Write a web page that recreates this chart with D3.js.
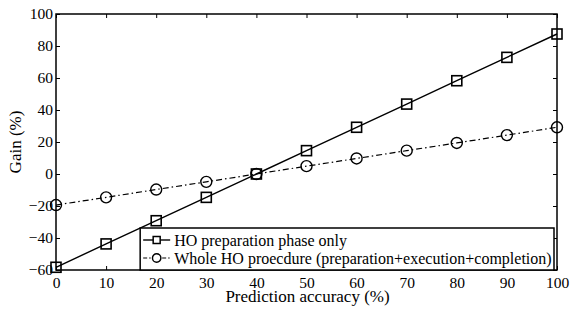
<!DOCTYPE html>
<html>
<head>
<meta charset="utf-8">
<script src="https://d3js.org/d3.v7.min.js"></script>
<style>
  body { margin: 0; background: #fff; }
  text { font-family: "Liberation Serif", "Times New Roman", serif; fill: #000; }
</style>
</head>
<body>
<script>
// data
const accuracy = [0, 10, 20, 30, 40, 50, 60, 70, 80, 90, 100];
const prepOnly = [-58.3, -43.7, -29.2, -14.6, 0, 14.6, 29.2, 43.7, 58.3, 72.9, 87.5];
const wholeHO = [-19.4, -14.6, -9.7, -4.9, 0, 4.9, 9.7, 14.6, 19.4, 24.3, 29.2];
const xTicks = [0, 10, 20, 30, 40, 50, 60, 70, 80, 90, 100];
const yTicks = [-60, -40, -20, 0, 20, 40, 60, 80, 100];
const legendLabels = ["HO preparation phase only", "Whole HO proecdure (preparation+execution+completion)"];

const W = 571, H = 311;
const m = {left: 56, top: 14, right: 14, bottom: 41};
const w = W - m.left - m.right, h = H - m.top - m.bottom;

const svg = d3.select("body").append("svg").attr("width", W).attr("height", H);
const g = svg.append("g").attr("transform", `translate(${m.left},${m.top})`);

const x = d3.scaleLinear().domain([0, 100]).range([0, w]);
const y = d3.scaleLinear().domain([-60, 100]).range([h, 0]);

// axes with inward ticks on all sides
function styleAxis(sel) {
  sel.select(".domain").remove();
  sel.selectAll("line").attr("stroke", "#000").attr("stroke-width", 1);
  sel.selectAll("text").style("font-size", "15.5px").style("font-family", "Liberation Serif");
}
g.append("g").attr("transform", `translate(0,${h})`)
  .call(d3.axisBottom(x).tickValues(xTicks).tickSizeInner(-4).tickSizeOuter(0).tickPadding(6.5))
  .call(styleAxis);
g.append("g").call(d3.axisTop(x).tickValues(xTicks).tickSizeInner(-4).tickSizeOuter(0).tickFormat(""))
  .call(styleAxis);
g.append("g")
  .call(d3.axisLeft(y).tickValues(yTicks).tickSizeInner(-4).tickSizeOuter(0).tickPadding(3)
    .tickFormat(d => d < 0 ? "\u2212" + Math.abs(d) : d))
  .call(styleAxis);
g.append("g").attr("transform", `translate(${w},0)`)
  .call(d3.axisRight(y).tickValues(yTicks).tickSizeInner(-4).tickSizeOuter(0).tickFormat(""))
  .call(styleAxis);

g.append("rect").attr("width", w).attr("height", h)
  .attr("fill", "none").attr("stroke", "#000").attr("stroke-width", 1.5);

// series
const line = (vals) => d3.line().x((d, i) => x(accuracy[i])).y(d => y(d))(vals);

g.append("path").attr("d", line(prepOnly))
  .attr("fill", "none").attr("stroke", "#000").attr("stroke-width", 1.4);
g.append("path").attr("d", line(wholeHO))
  .attr("fill", "none").attr("stroke", "#000").attr("stroke-width", 1.2)
  .attr("stroke-dasharray", "6,3,1.5,3");

const sq = 10;
g.selectAll(".sq").data(prepOnly).join("rect")
  .attr("x", (d, i) => x(accuracy[i]) - sq / 2).attr("y", d => y(d) - sq / 2)
  .attr("width", sq).attr("height", sq)
  .attr("fill", "none").attr("stroke", "#000").attr("stroke-width", 1.6);
g.selectAll(".ci").data(wholeHO).join("circle")
  .attr("cx", (d, i) => x(accuracy[i])).attr("cy", d => y(d)).attr("r", 5.5)
  .attr("fill", "none").attr("stroke", "#000").attr("stroke-width", 1.4);

// legend
const lx = x(16.8), ly = y(-33.75);
const lg = g.append("g").attr("transform", `translate(${lx},${ly})`);
const lw = w - lx - 3, lh = h - ly;
lg.append("rect").attr("width", lw).attr("height", lh)
  .attr("fill", "#fff").attr("stroke", "#000").attr("stroke-width", 1.5);
legendLabels.forEach((t, i) => {
  const yy = 12 + i * 18;
  const row = lg.append("g").attr("transform", `translate(0,${yy})`);
  row.append("line").attr("x1", 3).attr("x2", 30).attr("y1", 0).attr("y2", 0)
    .attr("stroke", "#000").attr("stroke-width", i === 0 ? 1.4 : 1.2)
    .attr("stroke-dasharray", i === 0 ? null : "4,2,1.5,2");
  if (i === 0) {
    row.append("rect").attr("x", 16.5 - 3.5).attr("y", -3.5).attr("width", 7).attr("height", 7)
      .attr("fill", "#fff").attr("stroke", "#000").attr("stroke-width", 1.5);
  } else {
    row.append("circle").attr("cx", 16.5).attr("cy", 0).attr("r", 4.2)
      .attr("fill", "#fff").attr("stroke", "#000").attr("stroke-width", 1.4);
  }
  row.append("text").attr("x", 34).attr("y", 0).attr("dy", "0.35em")
    .style("font-size", "16px").text(t);
});

// axis titles
svg.append("text").attr("x", m.left + w / 2 + 1).attr("y", 301.5)
  .attr("text-anchor", "middle").style("font-size", "17px").text("Prediction accuracy (%)");
svg.append("text").attr("transform", `translate(21,${m.top + h / 2}) rotate(-90)`)
  .attr("text-anchor", "middle").style("font-size", "17px").text("Gain (%)");
</script>
</body>
</html>
